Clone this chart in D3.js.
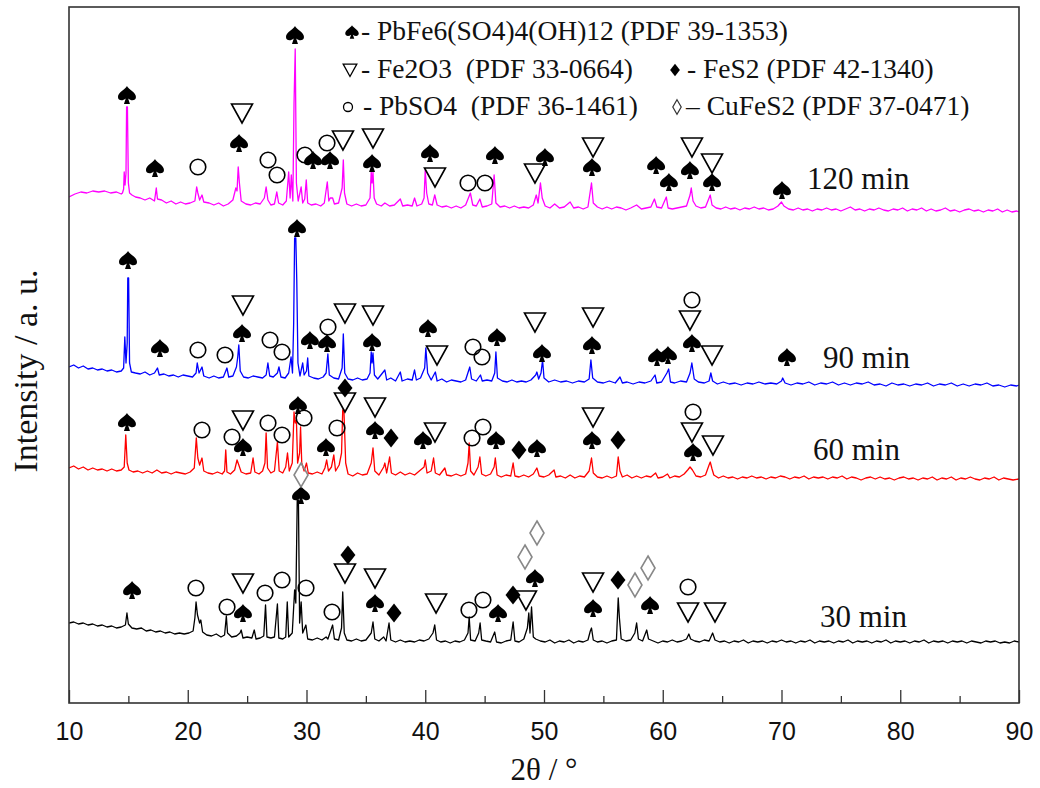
<!DOCTYPE html>
<html>
<head>
<meta charset="utf-8">
<script src="https://cdn.jsdelivr.net/npm/d3@7"></script>
<style>
  body { margin: 0; background: #fff; }
  svg { display: block; }
  .serif { font-family: "Liberation Serif", "Times New Roman", serif; fill: #111; }
  .axis text { font-family: "Liberation Sans", Arial, sans-serif; font-size: 25px; fill: #111; }
  .axis path { display: none; }
  .axis line { stroke: #333; stroke-width: 1.3; }
</style>
</head>
<body>
<svg id="chart1"></svg>
<script>
let w = 1040;
let h = 788;
let margin = { left: 69, right: 21, top: 7, bottom: 85 };

// tick labels of the 2theta axis
let majorTicks = [10, 20, 30, 40, 50, 60, 70, 80, 90];
let minorTicks = [15, 25, 35, 45, 55, 65, 75, 85];

let seriesNames = ['120 min', '90 min', '60 min', '30 min'];

// [2theta, intensity] with the vertical offset of each pattern already in
let trace120 = [[10,506],[10.5,509],[11,511],[11.5,510],[12,512],[12.5,511],[13,512],[13.5,510],[14,511],[14.4,509],[14.5,510],[14.6,514],[14.65,531],[14.72,518],[14.8,530],[14.85,596],[14.92,596],[15.0,520],[15.1,510],[15.3,508],[15.6,506],[16.0,505],[16.4,503],[16.8,505],[17.2,502],[17.35,515],[17.45,504],[17.8,503],[18.2,500],[18.6,502],[19.0,499],[19.4,501],[19.8,499],[20.2,500],[20.6,502],[20.75,516],[20.85,510],[21.0,503],[21.2,508],[21.35,501],[21.8,500],[22.2,498],[22.6,500],[23.0,497],[23.4,499],[23.8,503],[24.05,515],[24.15,512],[24.25,536],[24.35,520],[24.5,502],[24.9,499],[25.3,498],[25.7,500],[26.1,499],[26.45,505],[26.6,516],[26.75,503],[27.0,498],[27.3,499],[27.5,511],[27.65,500],[28.0,498],[28.3,502],[28.5,531],[28.62,505],[28.72,528],[28.85,502],[28.95,600],[29.05,654],[29.15,520],[29.3,502],[29.55,516],[29.68,500],[29.85,504],[29.98,523],[30.1,500],[30.4,498],[30.8,499],[31.2,497],[31.5,500],[31.75,521],[31.88,502],[32.0,505],[32.2,505],[32.35,499],[32.7,500],[33.0,515],[33.1,543],[33.2,510],[33.4,499],[33.8,497],[34.2,499],[34.6,497],[35.0,498],[35.35,505],[35.45,531],[35.52,520],[35.6,531],[35.7,505],[35.9,499],[36.3,497],[36.6,500],[37.0,497],[37.4,498],[37.9,504],[38.1,497],[38.5,498],[38.9,497],[39.1,505],[39.3,497],[39.7,499],[39.9,505],[40.0,533],[40.12,510],[40.3,499],[40.6,498],[40.8,508],[41.0,498],[41.4,496],[41.8,497],[42.2,495],[42.6,497],[43.0,495],[43.4,498],[43.8,510],[44.0,498],[44.3,497],[44.6,504],[44.8,496],[45.2,497],[45.6,499],[45.8,528],[45.95,500],[46.3,496],[46.7,497],[47.1,495],[47.5,497],[47.9,495],[48.3,496],[48.7,495],[49.1,498],[49.35,508],[49.5,500],[49.7,520],[49.85,505],[50.1,497],[50.5,495],[50.9,499],[51.3,495],[51.7,496],[52.2,501],[52.5,495],[52.9,496],[53.3,494],[53.7,496],[54.0,520],[54.15,500],[54.5,496],[54.9,494],[55.3,496],[55.7,494],[56.1,496],[56.5,495],[56.9,493],[57.3,495],[57.8,498],[58.2,494],[58.6,495],[59.0,496],[59.3,504],[59.5,496],[59.9,495],[60.3,506],[60.45,495],[60.8,494],[61.2,495],[61.6,496],[62.0,497],[62.3,508],[62.4,515],[62.55,502],[62.8,497],[63.2,495],[63.6,496],[64.0,508],[64.15,498],[64.5,495],[64.9,494],[65.3,496],[65.7,494],[66.1,495],[66.5,493],[66.9,495],[67.3,494],[67.7,496],[68.1,494],[68.5,495],[68.9,493],[69.3,494],[69.7,497],[70.0,501],[70.2,497],[70.6,494],[71.0,493],[71.4,495],[71.8,493],[72.2,494],[72.6,492],[73.0,494],[73.4,493],[73.8,495],[74.2,493],[74.6,494],[75.0,492],[75.4,494],[75.8,496],[76.2,493],[76.6,494],[77.0,492],[77.4,494],[77.8,493],[78.2,495],[78.6,493],[79.0,492],[79.4,494],[79.8,493],[80.2,495],[80.6,492],[81.0,494],[81.4,493],[81.8,495],[82.2,492],[82.6,494],[83.0,492],[83.4,493],[83.8,495],[84.2,492],[84.6,493],[85.0,491],[85.4,493],[85.8,494],[86.2,492],[86.6,493],[87.0,491],[87.4,493],[87.8,492],[88.2,494],[88.6,491],[89.0,493],[89.4,491],[89.8,492],[90,491]];

let trace90 = [[10,336],[10.4,338],[10.8,335],[11.2,337],[11.6,334],[12,335],[12.4,333],[12.8,334],[13.2,332],[13.6,333],[14.0,331],[14.4,332],[14.6,335],[14.7,366],[14.8,340],[14.9,360],[14.95,425],[15.02,425],[15.1,340],[15.25,331],[15.6,330],[16.0,329],[16.4,331],[16.8,328],[17.2,330],[17.45,335],[17.6,328],[18.0,329],[18.4,327],[18.8,328],[19.2,326],[19.6,328],[20.0,327],[20.4,326],[20.7,330],[20.8,340],[20.95,330],[21.2,336],[21.35,327],[21.8,325],[22.2,327],[22.6,325],[23.0,326],[23.3,335],[23.45,326],[23.8,327],[24.1,336],[24.2,345],[24.3,358],[24.42,332],[24.7,326],[25.1,325],[25.5,327],[25.9,326],[26.3,325],[26.6,328],[26.75,340],[26.9,327],[27.2,326],[27.55,330],[27.68,336],[27.85,326],[28.2,325],[28.5,330],[28.7,346],[28.82,330],[28.92,380],[29.0,465],[29.1,465],[29.18,423],[29.28,340],[29.45,327],[29.68,340],[29.8,328],[30.0,332],[30.1,345],[30.2,327],[30.6,325],[31.0,324],[31.4,326],[31.65,330],[31.8,349],[31.92,328],[32.3,325],[32.7,324],[33.0,335],[33.1,369],[33.22,330],[33.5,324],[33.9,323],[34.3,325],[34.7,323],[35.1,324],[35.35,330],[35.45,351],[35.52,340],[35.6,350],[35.72,328],[36.0,324],[36.6,333],[36.75,323],[37.1,325],[37.5,322],[37.9,331],[38.05,322],[38.5,324],[38.9,323],[39.1,333],[39.25,323],[39.6,325],[39.95,335],[40.05,355],[40.2,330],[40.5,323],[40.85,331],[41.0,322],[41.4,324],[41.8,321],[42.2,323],[42.6,322],[43.0,321],[43.4,323],[43.75,336],[43.9,324],[44.3,322],[44.65,328],[44.8,322],[45.2,323],[45.6,322],[45.85,330],[45.95,351],[46.08,325],[46.5,322],[46.9,321],[47.3,323],[47.7,321],[48.1,322],[48.5,321],[48.9,323],[49.3,328],[49.4,331],[49.55,324],[49.75,330],[49.88,343],[50.0,325],[50.4,321],[50.9,323],[51.4,321],[51.9,322],[52.4,320],[52.9,322],[53.4,321],[53.8,324],[53.95,343],[54.1,325],[54.5,321],[55.0,320],[55.5,322],[56.0,320],[56.4,326],[56.6,320],[57.0,321],[57.5,319],[58.0,321],[58.5,320],[59.0,322],[59.35,328],[59.5,320],[59.9,321],[60.35,330],[60.5,334],[60.65,321],[61.0,320],[61.5,322],[62.0,321],[62.3,330],[62.45,340],[62.65,324],[63.0,321],[63.5,320],[63.9,322],[64.05,330],[64.2,322],[64.6,319],[65.1,321],[65.6,319],[66.1,320],[66.6,318],[67.1,320],[67.6,319],[68.1,321],[68.6,319],[69.1,320],[69.6,319],[70.0,322],[70.1,325],[70.3,320],[70.8,318],[71.3,320],[71.8,319],[72.3,321],[72.8,318],[73.3,320],[73.8,319],[74.3,321],[74.8,318],[75.3,320],[75.8,318],[76.3,320],[76.8,319],[77.3,321],[77.8,318],[78.3,319],[78.8,317],[79.3,320],[79.8,318],[80.3,319],[80.8,317],[81.3,319],[81.8,318],[82.3,320],[82.8,317],[83.3,319],[83.8,318],[84.3,320],[84.8,317],[85.3,319],[85.8,317],[86.3,319],[86.8,318],[87.3,320],[87.8,317],[88.3,318],[88.8,316],[89.3,318],[89.8,317],[90,318]];

let trace60 = [[10,235],[10.4,237],[10.8,234],[11.2,236],[11.6,233],[12.0,235],[12.4,233],[12.8,234],[13.2,232],[13.6,234],[14.0,232],[14.4,233],[14.65,236],[14.78,268],[14.9,240],[15.05,233],[15.4,231],[15.8,232],[16.2,230],[16.6,232],[17.0,230],[17.4,233],[17.8,230],[18.2,231],[18.6,229],[19.0,231],[19.4,230],[19.8,229],[20.2,231],[20.55,235],[20.72,265],[20.85,245],[21.0,238],[21.2,245],[21.35,232],[21.7,230],[22.1,229],[22.5,231],[22.9,229],[23.1,232],[23.2,253],[23.3,231],[23.6,229],[23.95,233],[24.15,243],[24.3,238],[24.5,231],[24.9,229],[25.3,230],[25.5,245],[25.65,231],[26.0,229],[26.3,232],[26.5,240],[26.6,270],[26.72,235],[27.0,230],[27.3,232],[27.55,261],[27.7,232],[28.0,230],[28.25,236],[28.4,250],[28.55,232],[28.8,240],[28.95,291],[29.05,280],[29.15,283],[29.25,240],[29.42,250],[29.5,276],[29.6,240],[29.8,232],[30.0,240],[30.15,230],[30.5,229],[30.9,231],[31.3,229],[31.55,235],[31.7,243],[31.85,232],[32.1,236],[32.3,248],[32.45,232],[32.75,238],[32.95,250],[33.05,293],[33.15,293],[33.3,240],[33.5,229],[33.9,227],[34.3,230],[34.7,228],[35.1,229],[35.45,240],[35.6,255],[35.75,232],[36.1,228],[36.5,236],[36.6,240],[36.75,230],[37.0,246],[37.15,230],[37.5,228],[37.9,231],[38.3,228],[38.7,230],[39.1,228],[39.5,232],[39.9,236],[40.0,243],[40.15,230],[40.5,232],[40.7,245],[40.85,230],[41.2,228],[41.65,235],[41.8,228],[42.2,227],[42.6,229],[43.0,227],[43.4,229],[43.6,240],[43.7,260],[43.82,232],[44.1,228],[44.45,236],[44.6,246],[44.75,229],[45.1,227],[45.5,229],[45.8,236],[45.9,245],[46.05,228],[46.4,226],[46.8,228],[47.2,227],[47.4,240],[47.55,227],[47.9,226],[48.3,228],[48.7,226],[49.1,229],[49.4,235],[49.6,227],[50.0,226],[50.4,228],[50.85,233],[51.0,226],[51.4,227],[51.8,225],[52.2,228],[52.6,225],[53.0,227],[53.4,226],[53.8,232],[54.0,245],[54.15,230],[54.5,226],[54.9,225],[55.3,227],[55.7,225],[56.1,227],[56.25,246],[56.4,232],[56.6,226],[57.0,228],[57.4,225],[57.8,227],[58.2,225],[58.6,227],[59.0,226],[59.4,230],[59.6,225],[60.0,226],[60.4,229],[60.6,225],[61.0,227],[61.4,226],[61.8,229],[62.1,233],[62.3,236],[62.5,233],[62.8,227],[63.2,226],[63.6,228],[63.9,238],[64.0,241],[64.15,234],[64.3,228],[64.7,225],[65.1,227],[65.5,225],[65.9,226],[66.3,224],[66.7,226],[67.1,225],[67.5,227],[67.9,225],[68.3,226],[68.7,224],[69.1,226],[69.5,225],[69.9,227],[70.3,226],[70.7,224],[71.1,226],[71.5,225],[71.9,227],[72.3,224],[72.7,226],[73.1,225],[73.5,226],[73.9,224],[74.3,226],[74.7,225],[75.1,227],[75.5,224],[75.9,226],[76.3,225],[76.7,223],[77.1,225],[77.5,226],[77.9,224],[78.3,226],[78.7,224],[79.1,225],[79.5,223],[79.9,225],[80.3,226],[80.7,224],[81.1,225],[81.5,223],[81.9,225],[82.3,224],[82.7,226],[83.1,223],[83.5,225],[83.9,224],[84.3,226],[84.7,223],[85.1,225],[85.5,224],[85.9,226],[86.3,224],[86.7,223],[87.1,225],[87.5,224],[87.9,226],[88.3,223],[88.7,225],[89.1,224],[89.5,223],[90,224]];

let trace30 = [[10,80],[10.4,81],[10.8,79],[11.2,80],[11.6,78],[12.0,79],[12.4,77],[12.8,78],[13.2,76],[13.6,77],[14.0,75],[14.4,76],[14.75,78],[14.88,90],[15.0,79],[15.3,75],[15.7,74],[16.1,75],[16.5,72],[16.9,73],[17.3,71],[17.7,72],[18.1,70],[18.5,71],[18.9,69],[19.3,70],[19.7,69],[20.1,70],[20.45,72],[20.6,85],[20.7,101],[20.82,88],[21.0,80],[21.1,83],[21.25,71],[21.6,68],[22.0,67],[22.4,69],[22.8,66],[23.1,68],[23.25,87],[23.35,70],[23.7,66],[24.1,67],[24.4,70],[24.5,73],[24.65,65],[25.0,66],[25.4,65],[25.6,73],[25.75,64],[26.1,65],[26.4,67],[26.55,98],[26.67,66],[27.0,65],[27.3,66],[27.55,99],[27.67,65],[28.0,64],[28.25,66],[28.38,101],[28.5,66],[28.8,70],[29.0,113],[29.1,100],[29.22,203],[29.32,203],[29.42,80],[29.55,101],[29.68,70],[29.95,78],[30.1,64],[30.5,63],[30.9,65],[31.3,63],[31.65,66],[31.8,64],[32.2,78],[32.35,64],[32.7,63],[32.95,75],[33.05,111],[33.18,70],[33.4,63],[33.8,62],[34.2,64],[34.6,62],[35.0,63],[35.45,70],[35.6,81],[35.75,64],[36.1,62],[36.5,66],[36.7,62],[36.95,80],[37.1,63],[37.5,61],[37.9,63],[38.3,61],[38.7,62],[39.1,61],[39.5,63],[39.9,62],[40.3,64],[40.65,70],[40.8,78],[40.95,63],[41.3,61],[41.7,62],[42.1,60],[42.5,62],[42.9,61],[43.3,63],[43.6,70],[43.7,86],[43.82,63],[44.2,62],[44.5,70],[44.62,80],[44.75,63],[45.1,62],[45.5,61],[45.85,71],[46.0,61],[46.4,60],[46.8,62],[47.2,63],[47.4,81],[47.55,62],[47.9,61],[48.3,64],[48.6,75],[48.72,90],[48.82,70],[48.95,96],[49.1,66],[49.3,64],[49.7,62],[50.1,61],[50.5,63],[50.9,60],[51.3,62],[51.7,61],[52.1,63],[52.5,60],[52.9,62],[53.3,61],[53.7,63],[53.9,72],[54.0,75],[54.15,63],[54.5,61],[54.9,62],[55.3,60],[55.7,62],[56.1,63],[56.25,105],[56.35,85],[56.5,64],[56.9,62],[57.3,63],[57.65,70],[57.8,80],[57.95,64],[58.3,62],[58.65,73],[58.8,64],[59.2,62],[59.6,60],[60.0,62],[60.4,61],[60.8,63],[61.2,61],[61.6,62],[62.0,64],[62.2,69],[62.35,64],[62.7,62],[63.1,61],[63.5,63],[63.9,62],[64.2,70],[64.4,63],[64.8,61],[65.2,62],[65.6,60],[66.0,62],[66.4,61],[66.8,63],[67.2,60],[67.6,62],[68.0,61],[68.4,62],[68.8,60],[69.2,62],[69.6,61],[70.0,63],[70.4,61],[70.8,62],[71.2,60],[71.6,62],[72.0,61],[72.4,63],[72.8,60],[73.2,62],[73.6,61],[74.0,62],[74.4,60],[74.8,62],[75.2,61],[75.6,63],[76.0,60],[76.4,62],[76.8,61],[77.2,62],[77.6,60],[78.0,62],[78.4,61],[78.8,63],[79.2,60],[79.6,62],[80.0,61],[80.4,62],[80.8,60],[81.2,62],[81.6,61],[82.0,63],[82.4,60],[82.8,62],[83.2,61],[83.6,62],[84.0,60],[84.4,62],[84.8,61],[85.2,62],[85.6,60],[86.0,62],[86.4,61],[86.8,60],[87.2,62],[87.6,61],[88.0,62],[88.4,60],[88.8,61],[89.2,60],[89.6,62],[90,61]];

// phase marks [2theta, intensity]
let jarositeMarks = [[14.88,608],[17.24,535],[24.32,560],[29.03,668],[30.55,543],[31.98,543],[35.52,540],[40.40,550],[45.87,548],[50.08,546],[54.04,536],[59.44,538],[60.52,521],[62.29,533],[64.15,521],[70.04,513],
  [14.97,443],[17.66,355],[24.57,370],[29.2,475],[30.29,363],[31.73,360],[35.52,361],[40.23,375],[46.04,366],[49.83,350],[54.04,358],[59.52,346],[60.44,348],[62.46,360],[70.46,346],
  [14.88,281],[24.65,256],[29.28,298],[31.64,256],[35.77,273],[39.81,263],[45.96,263],[49.41,255],[54.04,263],[62.55,251],
  [29.54,208],[15.31,113],[24.65,90],[35.77,100],[46.13,90],[49.24,125],[54.13,95],[58.93,98]];
let hematiteMarks = [[24.57,590],[33.07,563],[35.6,565],[40.82,526],[49.24,530],[54.13,556],[62.46,556],[64.15,540],
  [24.65,398],[33.24,390],[35.6,388],[40.99,348],[49.24,381],[54.13,386],[62.29,383],[64.15,348],
  [24.65,283],[33.24,301],[35.77,296],[40.82,271],[54.13,286],[62.46,271],[64.23,258],
  [24.65,120],[33.24,130],[35.77,125],[40.91,100],[48.48,103],[54.13,121],[62.13,91],[64.4,91]];
let anglesiteMarks = [[20.86,536],[26.76,543],[27.52,528],[29.87,548],[31.73,560],[43.6,520],[45.03,520],
  [20.86,353],[23.14,348],[26.93,363],[27.94,351],[31.81,376],[44.02,356],[44.78,346],[62.46,403],
  [21.2,273],[23.73,266],[26.76,280],[27.94,268],[29.79,285],[32.57,275],[43.94,265],[44.86,276],[62.55,291],
  [20.69,115],[23.31,96],[26.51,110],[27.94,123],[29.96,115],[32.15,91],[43.68,93],[44.86,103],[62.13,116]];
let pyriteMarks = [[33.24,315],[37.12,265],[47.89,253],[56.23,263],
  [33.49,148],[37.37,90],[47.39,108],[56.23,123]];
let chalcopyriteMarks = [[29.54,228],[48.4,146],[49.41,170],[57.66,118],[58.76,135]];

let legendItems = ['- PbFe6(SO4)4(OH)12 (PDF 39-1353)', '- Fe2O3  (PDF 33-0664)', '- FeS2 (PDF 42-1340)', '- PbSO4  (PDF 36-1461)', '\u2013 CuFeS2 (PDF 37-0471)'];

let traces = [trace120, trace90, trace60, trace30];
let colors = ['#ff00ff', '#0000ff', '#ff0000', '#000000'];
// where the "xx min" labels sit, in data units
let labelPos = [[72.15, 514], [73.5, 335], [72.65, 243], [73.24, 76]];

let spadePath = 'M0,-9 C1.5,-5.5 9,-3 9,2 C9,5.5 4.5,6.5 1.2,3.5 L3,9 L-3,9 L-1.2,3.5 C-4.5,6.5 -9,5.5 -9,2 C-9,-3 -1.5,-5.5 0,-9 Z';
let triPath = 'M-10.5,-9 L10.5,-9 L0,10 Z';
let diaPath = 'M0,-9.5 L7.5,0 L0,9.5 L-7.5,0 Z';
let openDiaPath = 'M0,-12 L7,0 L0,12 L-7,0 Z';

let svg = d3.select('#chart1').attr('width', w).attr('height', h);

let xScale = d3.scaleLinear()
  .domain([10, 90])
  .range([margin.left, w - margin.right]);

let yScale = d3.scaleLinear()
  .domain([0, 696])
  .range([h - margin.bottom, margin.top]);

svg.append('clipPath').attr('id', 'plotClip')
  .append('rect')
  .attr('x', margin.left).attr('y', margin.top)
  .attr('width', w - margin.left - margin.right)
  .attr('height', h - margin.top - margin.bottom);

let line = d3.line()
  .x((d) => xScale(d[0]))
  .y((d) => yScale(d[1]));

svg.append('g')
  .attr('clip-path', 'url(#plotClip)')
  .selectAll('path')
  .data(traces)
  .enter()
  .append('path')
  .attr('d', line)
  .attr('fill', 'none')
  .attr('stroke', (d, i) => colors[i])
  .attr('stroke-width', 1.3)
  .attr('stroke-linejoin', 'round');

// markers
function drawMarks(data, path, fill, stroke) {
  svg.append('g')
    .selectAll('path')
    .data(data)
    .enter()
    .append('path')
    .attr('d', path)
    .attr('transform', (d) => `translate(${xScale(d[0])},${yScale(d[1])})`)
    .attr('fill', fill)
    .attr('stroke', stroke)
    .attr('stroke-width', 1.6);
}
drawMarks(jarositeMarks, spadePath, '#000', 'none');
drawMarks(hematiteMarks, triPath, 'none', '#000');
drawMarks(pyriteMarks, diaPath, '#000', 'none');
drawMarks(chalcopyriteMarks, openDiaPath, 'none', '#888');

svg.append('g')
  .selectAll('circle')
  .data(anglesiteMarks)
  .enter()
  .append('circle')
  .attr('cx', (d) => xScale(d[0]))
  .attr('cy', (d) => yScale(d[1]))
  .attr('r', 7.8)
  .attr('fill', 'none')
  .attr('stroke', '#000')
  .attr('stroke-width', 1.6);

// series labels
svg.append('g')
  .selectAll('text')
  .data(seriesNames)
  .enter()
  .append('text')
  .attr('class', 'serif')
  .attr('x', (d, i) => xScale(labelPos[i][0]))
  .attr('y', (d, i) => yScale(labelPos[i][1]))
  .attr('font-size', 31)
  .text((d) => d);

// legend
let legendRows = [
  { sym: spadePath, fill: '#000', stroke: 'none', sx: 352, sy: 32, k: 0.75, tx: 361, ty: 40, text: legendItems[0] },
  { sym: triPath, fill: 'none', stroke: '#000', sx: 350, sy: 70, k: 0.65, tx: 361, ty: 78, text: legendItems[1] },
  { sym: diaPath, fill: '#000', stroke: 'none', sx: 675, sy: 70, k: 0.65, tx: 687, ty: 78, text: legendItems[2] },
  { sym: null, fill: 'none', stroke: '#000', sx: 348, sy: 107, k: 0.6, tx: 363, ty: 115, text: legendItems[3] },
  { sym: openDiaPath, fill: 'none', stroke: '#333', sx: 677, sy: 107, k: 0.6, tx: 686, ty: 115, text: legendItems[4] }
];
let legend = svg.append('g');
legendRows.forEach((r) => {
  if (r.sym) {
    legend.append('path')
      .attr('d', r.sym)
      .attr('transform', `translate(${r.sx},${r.sy}) scale(${r.k})`)
      .attr('fill', r.fill)
      .attr('stroke', r.stroke)
      .attr('stroke-width', 2);
  } else {
    legend.append('circle')
      .attr('cx', r.sx).attr('cy', r.sy).attr('r', 4.5)
      .attr('fill', 'none').attr('stroke', '#000').attr('stroke-width', 1.3);
  }
  legend.append('text')
    .attr('class', 'serif')
    .attr('x', r.tx)
    .attr('y', r.ty)
    .attr('font-size', 27.5)
    .style('white-space', 'pre')
    .text(r.text);
});

// AXES
let xAxis = d3.axisBottom(xScale)
  .tickValues(majorTicks)
  .tickSize(-13)
  .tickPadding(19)
  .tickFormat(d3.format('d'));

svg.append('g')
  .attr('class', 'axis')
  .attr('transform', `translate(0, ${h - margin.bottom})`)
  .call(xAxis);

svg.append('g')
  .attr('class', 'axis')
  .attr('transform', `translate(0, ${h - margin.bottom})`)
  .call(d3.axisBottom(xScale).tickValues(minorTicks).tickSize(-7).tickFormat(''));

// frame
svg.append('rect')
  .attr('x', margin.left)
  .attr('y', margin.top)
  .attr('width', w - margin.left - margin.right)
  .attr('height', h - margin.top - margin.bottom)
  .attr('fill', 'none')
  .attr('stroke', '#333')
  .attr('stroke-width', 1.6);

svg.append('text')
  .attr('class', 'serif')
  .attr('x', (margin.left + w - margin.right) / 2)
  .attr('y', 780)
  .attr('text-anchor', 'middle')
  .attr('font-size', 31)
  .text('2\u03b8 / \u00b0');

svg.append('text')
  .attr('class', 'serif')
  .attr('transform', `translate(37, 371) rotate(-90)`)
  .attr('text-anchor', 'middle')
  .attr('font-size', 34)
  .text('Intensity / a. u.');
</script>
</body>
</html>
